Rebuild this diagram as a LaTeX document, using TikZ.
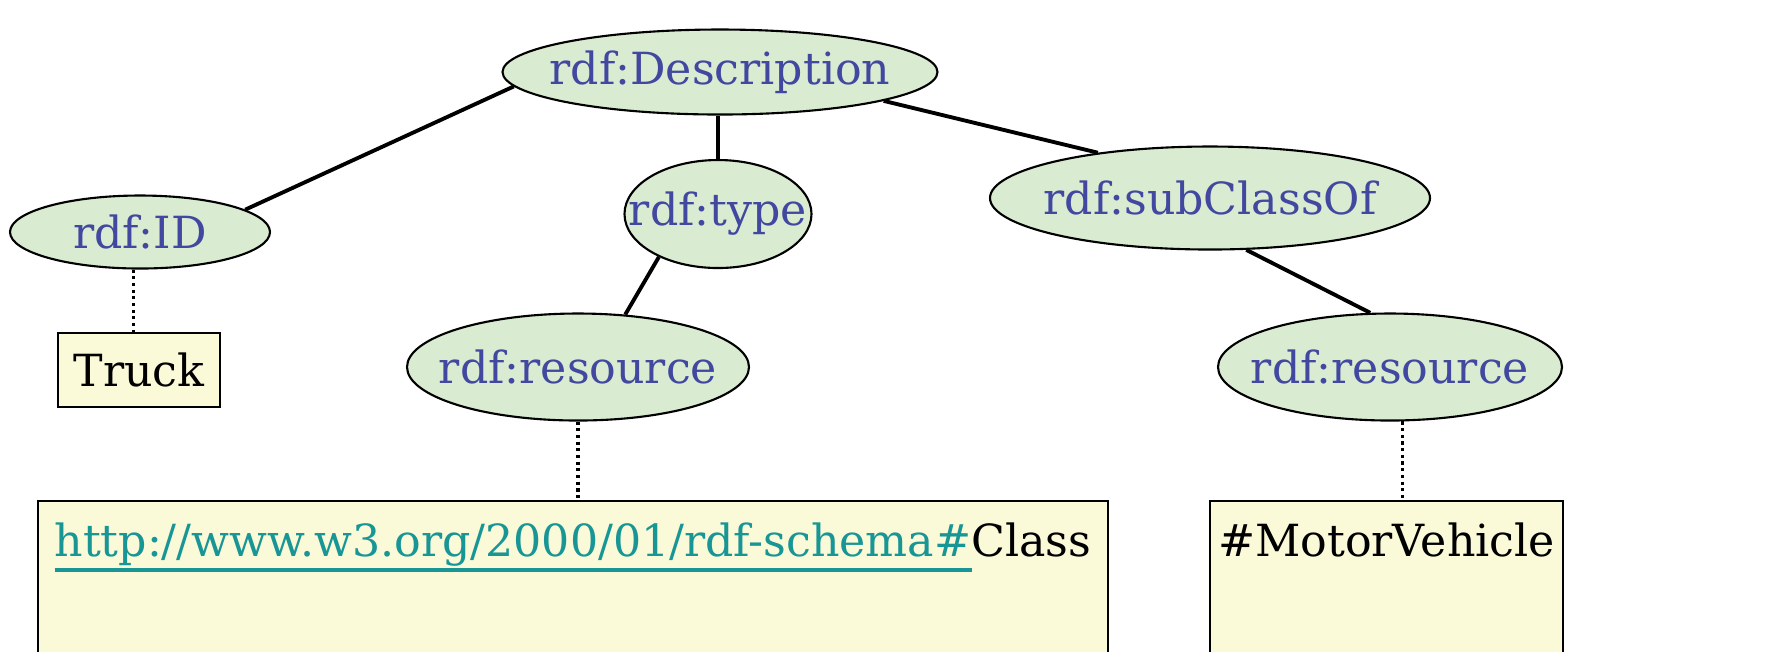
\documentclass[tikz,border=0pt]{standalone}
\usepackage{fontspec}
\setmainfont{DejaVu Serif}
\usetikzlibrary{shapes.geometric}

\definecolor{propfill}{RGB}{217,235,208}
\definecolor{propblue}{RGB}{66,72,160}
\definecolor{litfill}{RGB}{250,249,216}
\definecolor{linkteal}{RGB}{24,150,150}

% text that does not widen its ellipse
\newcommand{\lb}[1]{\makebox[0pt]{#1}}
% thick coloured underline
\newcommand{\ulink}[1]{\setbox0\hbox{#1}\rlap{\rule[-4.5pt]{\wd0}{1.2pt}}\box0}

\tikzset{
  prop/.style={ellipse,draw,fill=propfill,line width=0.6pt,inner sep=0pt,
    text=propblue,font=\fontsize{12.6}{15}\selectfont},
  lit/.style={rectangle,draw,fill=litfill,line width=0.6pt,inner sep=0pt,
    font=\fontsize{12.6}{15}\selectfont},
  edge/.style={line width=1.1pt},
  dots/.style={densely dotted,line width=0.9pt}
}

\begin{document}
\begin{tikzpicture}
                \clip (0,0) rectangle (17.87,-6.51);
                \fill[white] (0,0) rectangle (17.87,-6.51);
                \node[prop,minimum width=4.35cm,minimum height=0.85cm] (desc) at (7.20,-0.72) {\lb{rdf:Description}};
                \node[prop,minimum width=2.60cm,minimum height=0.73cm] (id) at (1.40,-2.32) {\lb{rdf:ID}};
                \node[prop,minimum width=1.87cm,minimum height=1.08cm] (type) at (7.18,-2.14) {\lb{rdf:type}};
                \node[prop,minimum width=4.40cm,minimum height=1.03cm] (sub) at (12.10,-1.98) {\lb{rdf:subClassOf}};
                \node[prop,minimum width=3.42cm,minimum height=1.07cm] (res1) at (5.78,-3.67) {\lb{rdf:resource}};
                \node[prop,minimum width=3.44cm,minimum height=1.07cm] (res2) at (13.90,-3.67) {\lb{rdf:resource}};
                \node[lit,minimum width=1.62cm,minimum height=0.74cm] (truck) at (1.39,-3.70) {Truck};
                \node[lit,minimum width=10.70cm,text height=0.55cm,text depth=1.35cm,anchor=north] (url) at (5.73,-5.00)
                    {\textcolor{linkteal}{\ulink{http://www.w3.org/2000/01/rdf-schema\#}}Class};
                \node[lit,minimum width=3.53cm,text height=0.55cm,text depth=1.35cm,anchor=north] (mv) at (13.865,-5.00) {\#MotorVehicle};
                \draw[edge] (desc.184) -- (id.12);
                \draw[edge] (desc.south -| type.north) -- (type.north);
                \draw[edge] (type.216) -- (res1.48);
                \draw[edge] (desc.350) -- (sub.158);
                \draw[edge] (sub.305) -- (res2.110);
                \draw[dots] (id.260) -- (id.260 |- truck.north);
                \draw[dots] (res1.south) -- (res1.south |- url.north);
                \draw[dots] (res2.283) -- (res2.283 |- mv.north);
            \end{tikzpicture}
\end{document}
